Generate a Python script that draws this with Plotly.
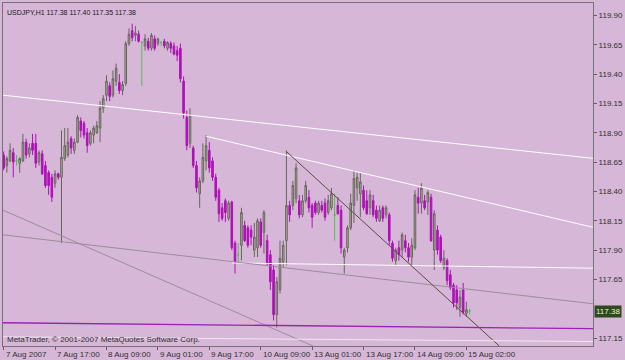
import plotly.graph_objects as go

# ---------------- data (USDJPY H1, 7 Aug 2007 -> 15 Aug 2007) ----------------
open_ = [
    118.71, 118.62, 118.66, 118.73, 118.66, 118.64, 118.66, 118.82, 118.72, 118.81,
    118.81, 118.65, 118.72, 118.62, 118.56, 118.52, 118.47, 118.55, 118.52, 118.68,
    118.71, 118.85, 118.75, 118.82, 119.00, 118.98, 118.90, 118.81, 118.88, 118.90,
    118.94, 119.11, 119.22, 119.30, 119.22, 119.34, 119.33, 119.26, 119.32, 119.66,
    119.77, 119.73, 119.74, 119.67, 119.64, 119.68, 119.62, 119.70, 119.66, 119.67,
    119.68, 119.62, 119.66, 119.64, 119.60, 119.62, 119.34, 119.03, 118.81, 118.77,
    118.62, 118.38, 118.49, 118.66, 118.75, 118.66, 118.52, 118.41, 118.26, 118.32,
    118.17, 118.31, 117.96, 117.86, 117.94, 118.11, 118.09, 118.07, 117.90, 117.92,
    118.14, 118.05, 117.98, 117.86, 117.73, 117.35, 117.56, 117.80, 117.98, 118.28,
    118.28, 118.34, 118.32, 118.20, 118.32, 118.35, 118.28, 118.30, 118.22, 118.28,
    118.30, 118.22, 118.26, 118.20, 118.28, 118.24, 117.84, 117.92, 118.09, 118.28,
    118.43, 118.38, 118.41, 118.32, 118.26, 118.32, 118.24, 118.15, 118.26, 118.20,
    118.20, 117.96, 117.81, 117.92, 117.90, 117.98, 117.92, 117.84, 117.92, 118.35,
    118.30, 118.32, 118.31, 118.35, 117.90, 118.07, 118.01, 117.75, 117.81, 117.69,
    117.60, 117.56, 117.41, 117.56, 117.36, 117.38,
]
high = [
    118.74, 118.70, 118.81, 118.77, 118.71, 118.69, 118.89, 118.85, 118.81, 118.89,
    118.89, 118.75, 118.75, 118.66, 118.58, 118.55, 118.58, 118.56, 118.92, 118.94,
    118.94, 118.87, 118.85, 119.05, 119.03, 119.00, 118.94, 118.92, 118.96, 119.00,
    119.17, 119.22, 119.39, 119.33, 119.43, 119.49, 119.40, 119.34, 119.68, 119.79,
    119.83, 119.81, 119.77, 119.68, 119.74, 119.71, 119.75, 119.73, 119.71, 119.68,
    119.70, 119.68, 119.68, 119.67, 119.64, 119.66, 119.38, 119.09, 119.11, 118.79,
    118.66, 118.52, 118.81, 118.88, 118.82, 118.69, 118.55, 118.43, 118.30, 118.34,
    118.32, 118.32, 117.98, 117.96, 118.26, 118.15, 118.11, 118.11, 118.13, 118.17,
    118.17, 118.24, 118.03, 117.90, 117.77, 117.67, 117.98, 117.98, 118.75, 118.32,
    118.49, 118.64, 118.37, 118.37, 118.49, 118.41, 118.30, 118.32, 118.32, 118.32,
    118.34, 118.37, 118.43, 118.38, 118.35, 118.28, 117.92, 118.11, 118.38, 118.58,
    118.56, 118.56, 118.45, 118.41, 118.41, 118.37, 118.28, 118.28, 118.28, 118.28,
    118.22, 117.98, 117.92, 117.98, 118.05, 118.03, 117.96, 118.00, 118.41, 118.43,
    118.47, 118.37, 118.41, 118.38, 118.24, 118.11, 118.03, 117.90, 117.83, 117.73,
    117.62, 117.60, 117.56, 117.62, 117.46, 117.40,
]
low = [
    118.58, 118.56, 118.65, 118.52, 118.62, 118.56, 118.65, 118.68, 118.69, 118.71,
    118.60, 118.62, 118.54, 118.43, 118.37, 118.31, 118.43, 118.50, 117.96, 118.66,
    118.69, 118.72, 118.72, 118.81, 118.86, 118.85, 118.73, 118.79, 118.81, 118.89,
    118.82, 119.07, 119.17, 119.17, 119.20, 119.30, 119.23, 119.22, 119.30, 119.64,
    119.68, 119.68, 119.67, 119.30, 119.60, 119.60, 119.60, 119.60, 119.64, 119.64,
    119.62, 119.60, 119.58, 119.56, 119.51, 119.33, 119.02, 118.75, 118.77, 118.60,
    118.39, 118.26, 118.47, 118.58, 118.56, 118.49, 118.32, 118.14, 118.15, 118.14,
    118.15, 117.90, 117.70, 117.80, 117.81, 117.97, 117.92, 117.94, 117.84, 117.84,
    117.92, 117.87, 117.77, 117.56, 117.30, 117.24, 117.53, 117.75, 117.77, 118.14,
    118.24, 118.30, 118.17, 118.18, 118.30, 118.22, 118.09, 118.20, 118.20, 118.22,
    118.15, 118.20, 118.24, 117.98, 118.20, 117.87, 117.70, 117.88, 118.07, 118.13,
    118.32, 118.18, 118.24, 118.20, 118.20, 118.18, 118.14, 118.14, 118.14, 118.17,
    117.94, 117.80, 117.77, 117.81, 117.84, 117.88, 117.80, 117.77, 117.90, 118.21,
    118.21, 118.24, 118.20, 117.97, 117.73, 117.86, 117.79, 117.73, 117.60, 117.56,
    117.41, 117.39, 117.33, 117.35, 117.33, 117.35,
]
close = [
    118.60, 118.68, 118.75, 118.65, 118.66, 118.68, 118.82, 118.71, 118.77, 118.75,
    118.64, 118.73, 118.55, 118.45, 118.45, 118.35, 118.55, 118.52, 118.69, 118.79,
    118.82, 118.77, 118.82, 119.03, 118.92, 118.88, 118.79, 118.90, 118.94, 118.96,
    119.11, 119.19, 119.34, 119.21, 119.36, 119.45, 119.26, 119.31, 119.66, 119.74,
    119.71, 119.75, 119.68, 119.67, 119.70, 119.62, 119.73, 119.62, 119.70, 119.67,
    119.64, 119.67, 119.62, 119.57, 119.56, 119.36, 119.07, 118.79, 119.05, 118.62,
    118.43, 118.49, 118.69, 118.79, 118.60, 118.52, 118.35, 118.21, 118.17, 118.22,
    118.30, 117.92, 117.80, 117.86, 118.22, 117.98, 117.94, 118.01, 118.01, 118.15,
    117.94, 118.22, 117.79, 117.63, 117.35, 117.63, 117.83, 117.94, 118.28, 118.20,
    118.45, 118.60, 118.20, 118.32, 118.45, 118.26, 118.18, 118.22, 118.30, 118.24,
    118.18, 118.32, 118.38, 118.20, 118.21, 117.92, 117.90, 118.09, 118.30, 118.51,
    118.52, 118.48, 118.26, 118.21, 118.37, 118.20, 118.17, 118.24, 118.17, 118.26,
    117.98, 117.83, 117.90, 117.86, 118.03, 117.92, 117.84, 117.94, 118.37, 118.30,
    118.43, 118.26, 118.39, 117.98, 118.21, 117.90, 117.81, 117.83, 117.64, 117.58,
    117.45, 117.45, 117.50, 117.37, 117.39, 117.38,
]

time_tick_bars = [0, 16, 32, 48, 64, 80, 96, 112, 128, 144]
time_tick_labels = ["7 Aug 2007", "7 Aug 17:00", "8 Aug 09:00", "9 Aug 01:00",
                    "9 Aug 17:00", "10 Aug 09:00", "13 Aug 01:00", "13 Aug 17:00",
                    "14 Aug 09:00", "15 Aug 02:00"]
price_ticks = [117.15, 117.65, 117.90, 118.15, 118.40, 118.65, 118.90,
               119.15, 119.40, 119.65, 119.90]
last_price = 117.38

# drawn objects (bar index, price)
white_lines = [((-0.2, 119.22), (184, 118.68)),
               ((63, 118.87), (184, 118.09)),
               ((71, 117.79), (184, 117.745))]
grey_lines = [((-0.2, 118.03), (184, 117.44)),
              ((-0.2, 118.24), (96.4, 117.08))]
dark_lines = [((88, 118.74), (154.3, 117.08))]
purple_lines = [((-0.2, 117.28), (184, 117.23))]
pale_lines = [((-0.2, 117.16), (184, 117.12))]

# ---------------- figure ----------------
BG = "#d7b7d7"
bars = list(range(len(open_)))
doji = [i for i in bars if open_[i] == close[i]]
normal = [i for i in bars if open_[i] != close[i]]

fig = go.Figure()
fig.add_trace(go.Candlestick(
    x=[bars[i] for i in normal],
    open=[open_[i] for i in normal], high=[high[i] for i in normal],
    low=[low[i] for i in normal], close=[close[i] for i in normal],
    increasing=dict(line=dict(color="#66665a", width=1), fillcolor="#b4b0a2"),
    decreasing=dict(line=dict(color="#b010b8", width=1), fillcolor="#b010b8"),
    whiskerwidth=0, hoverinfo="skip", showlegend=False,
))
fig.add_trace(go.Candlestick(
    x=[bars[i] for i in doji],
    open=[open_[i] for i in doji], high=[high[i] for i in doji],
    low=[low[i] for i in doji], close=[close[i] for i in doji],
    increasing=dict(line=dict(color="#4cc24c", width=1), fillcolor="#4cc24c"),
    decreasing=dict(line=dict(color="#4cc24c", width=1), fillcolor="#4cc24c"),
    whiskerwidth=0, hoverinfo="skip", showlegend=False,
))

def add_lines(lines, color, width):
    for (x0, y0), (x1, y1) in lines:
        fig.add_shape(type="line", xref="x", yref="y", x0=x0, y0=y0, x1=x1, y1=y1,
                      line=dict(color=color, width=width), layer="above")

add_lines(white_lines, "#ffffff", 1)
add_lines(grey_lines, "#9c8c9c", 1)
add_lines(dark_lines, "#5a4a48", 1)
add_lines(purple_lines, "#9a22b4", 1.3)
add_lines(pale_lines, "#f2e6f2", 1)

FONT = "Liberation Sans"
for b, t in zip(time_tick_bars, time_tick_labels):
    fig.add_annotation(x=b, y=0, xref="x", yref="paper", text=t, showarrow=False,
                       xanchor="left", yanchor="top", xshift=0, yshift=-2,
                       font=dict(family=FONT, size=8, color="#303030"))

fig.add_annotation(x=1, y=last_price, xref="paper", yref="y", text=f"{last_price:.2f}",
                   showarrow=False, xanchor="left", yanchor="middle", xshift=1,
                   bgcolor="#2c4a1c", borderpad=1,
                   font=dict(family=FONT, size=8, color="#e8f4d8"))
fig.add_annotation(x=0, y=1, xref="paper", yref="paper",
                   text="USDJPY,H1 117.38 117.40 117.35 117.38", showarrow=False,
                   xanchor="left", yanchor="top", xshift=2, yshift=-4,
                   font=dict(family=FONT, size=7, color="#202020"))
fig.add_annotation(x=0, y=0, xref="paper", yref="paper",
                   text="MetaTrader, © 2001-2007 MetaQuotes Software Corp.", showarrow=False,
                   xanchor="left", yanchor="bottom", xshift=2, yshift=0,
                   font=dict(family=FONT, size=8, color="#303030"))

fig.update_layout(
    width=625, height=360,
    margin=dict(l=2, r=30, t=2, b=14),
    paper_bgcolor=BG, plot_bgcolor=BG,
    showlegend=False,
    xaxis=dict(range=[-0.2, 183.4], rangeslider=dict(visible=False),
               tickvals=time_tick_bars, showticklabels=False,
               ticks="outside", ticklen=3, tickcolor="#606060",
               showgrid=False, zeroline=False,
               showline=True, linecolor="#7a707a", linewidth=1, mirror=True),
    yaxis=dict(range=[117.082, 120.006], side="right",
               tickvals=price_ticks, ticktext=[f"{p:.2f}" for p in price_ticks],
               ticks="outside", ticklen=3, tickcolor="#606060",
               tickfont=dict(family=FONT, size=8, color="#303030"),
               showgrid=False, zeroline=False,
               showline=True, linecolor="#7a707a", linewidth=1, mirror=True),
)

fig.write_html("out.html")
